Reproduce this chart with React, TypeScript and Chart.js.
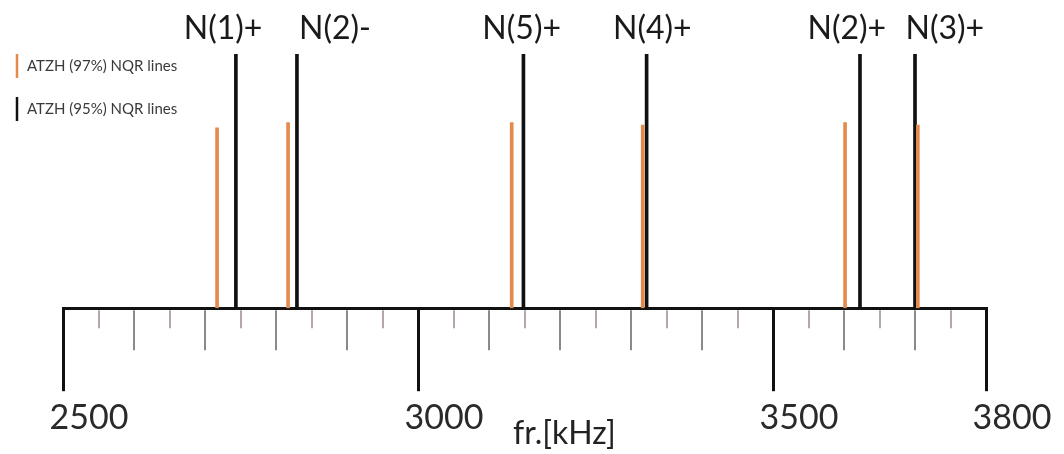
import React, { useEffect, useRef } from 'react';
import { Chart, registerables } from 'chart.js';

Chart.register(...registerables);

// ---- data ----
const lineNames = ['N(1)+', 'N(2)-', 'N(5)+', 'N(4)+', 'N(2)+', 'N(3)+'];
const labelFreq = [2725.5, 2883, 3146, 3330, 3604, 3742];
const freq95 = [2743.5, 2829.5, 3148.5, 3322, 3622.5, 3700];
const amp95 = [1, 1, 1, 1, 1, 1];
const freq97 = [2717, 2817, 3132, 3316.5, 3601.5, 3704];
const amp97 = [0.71, 0.73, 0.73, 0.72, 0.73, 0.72];
const seriesNames = ['ATZH (97%) NQR lines', 'ATZH (95%) NQR lines'];
const axisMin = 2500;
const axisMax = 3800;
const majorTicks = [2500, 3000, 3500, 3800];
const minorStep = 50;
const axisTitle = 'fr.[kHz]';

const ORANGE = '#e48a4c';
const BLACK = '#111111';

const decorPlugin = {
  id: 'decor',
  afterDraw(chart: any) {
    const { ctx, chartArea, scales } = chart;
    const x = scales.x;
    const base = chartArea.bottom;
    ctx.save();
    // minor ticks
    for (let v = axisMin + minorStep; v < axisMax; v += minorStep) {
      if (majorTicks.includes(v)) continue;
      const px = Math.round(x.getPixelForValue(v));
      const long = v % 100 === 0;
      ctx.strokeStyle = long ? '#8a8a8a' : '#b3a7ab';
      ctx.lineWidth = 2;
      ctx.beginPath();
      ctx.moveTo(px, base + 2);
      ctx.lineTo(px, base + (long ? 42 : 20));
      ctx.stroke();
    }
    // peak labels
    ctx.font = '32px Lato';
    ctx.fillStyle = '#1a1a1a';
    ctx.textAlign = 'center';
    ctx.textBaseline = 'middle';
    lineNames.forEach((n, i) => {
      ctx.fillText(n, x.getPixelForValue(labelFreq[i]), chartArea.top - 25);
    });
    // axis title
    ctx.font = '32px Lato';
    ctx.fillStyle = '#222';
    ctx.fillText(axisTitle, (chartArea.left + chartArea.right) / 2 + 40, 434);
    // legend
    ctx.textAlign = 'left';
    ctx.font = '15px Lato';
    chart.data.datasets.forEach((ds: any, i: number) => {
      const cy = 66 + i * 43;
      ctx.strokeStyle = ds.backgroundColor;
      ctx.lineWidth = 2.5;
      ctx.beginPath();
      ctx.moveTo(17, cy - 12);
      ctx.lineTo(17, cy + 12);
      ctx.stroke();
      ctx.fillStyle = '#3a3a3a';
      ctx.fillText(ds.label, 27, cy);
    });
    ctx.restore();
  },
};

export default function App() {
  const ref = useRef<HTMLCanvasElement | null>(null);

  useEffect(() => {
    document.body.style.margin = '0';
    const canvas = ref.current;
    if (!canvas) return;
    const chart = new Chart(canvas, {
      type: 'bar',
      data: {
        datasets: [
          {
            label: seriesNames[0],
            data: freq97.map((f, i) => ({ x: f, y: amp97[i] })),
            backgroundColor: ORANGE,
            barThickness: 3,
            grouped: false,
            borderWidth: 0,
          },
          {
            label: seriesNames[1],
            data: freq95.map((f, i) => ({ x: f, y: amp95[i] })),
            backgroundColor: BLACK,
            barThickness: 3,
            grouped: false,
            borderWidth: 0,
          },
        ],
      } as any,
      options: {
        animation: false,
        responsive: false,
        layout: { padding: { top: 54, left: 63, right: 78, bottom: 10 } },
        plugins: { legend: { display: false }, tooltip: { enabled: false } },
        scales: {
          x: {
            type: 'linear',
            min: axisMin,
            max: axisMax,
            offset: false,
            afterBuildTicks: (scale: any) => {
              scale.ticks = majorTicks.map((v) => ({ value: v }));
            },
            grid: {
              display: true,
              offset: false,
              drawOnChartArea: false,
              drawTicks: true,
              tickLength: 83,
              color: BLACK,
              lineWidth: 3,
            },
            border: { display: true, color: BLACK, width: 3 },
            ticks: {
              autoSkip: false,
              maxRotation: 0,
              labelOffset: 26,
              padding: 6,
              color: '#2a2a2a',
              font: { family: 'Lato', size: 34 },
              callback: (v: any) => String(v),
            },
          },
          y: { display: false, min: 0, max: 1 },
        },
      } as any,
      plugins: [decorPlugin],
    });
    return () => chart.destroy();
  }, []);

  return (
    <div style={{ position: 'fixed', left: 0, top: 0, width: 1064, height: 454, background: '#fff' }}>
      <canvas ref={ref} width={1064} height={454} style={{ display: 'block' }} />
    </div>
  );
}
